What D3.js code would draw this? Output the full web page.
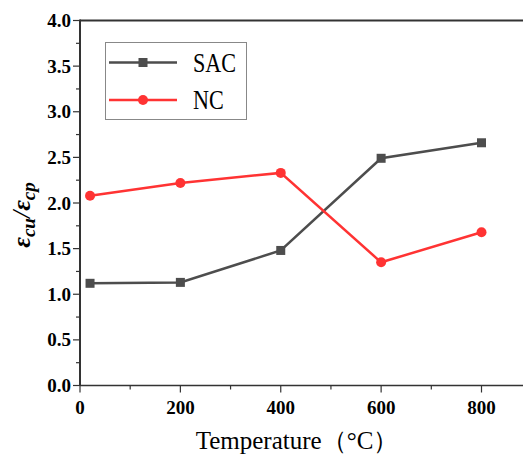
<!DOCTYPE html>
<html><head><meta charset="utf-8">
<script src="https://cdn.jsdelivr.net/npm/d3@7"></script>
<style>body{margin:0;background:#fff}svg{display:block}text{font-family:"Liberation Serif","DejaVu Serif","Times New Roman",serif}</style>
</head><body>
<svg id="c" width="523" height="459"></svg>
<script>
const temps = [20, 200, 400, 600, 800];
const sac = [1.12, 1.13, 1.48, 2.49, 2.66];
const nc = [2.08, 2.22, 2.33, 1.35, 1.68];
const xTicks = [0, 200, 400, 600, 800];
const yTicks = [0, 0.5, 1, 1.5, 2, 2.5, 3, 3.5, 4];
const seriesNames = ["SAC", "NC"];

const svg = d3.select("#c");
const L = 80, R = 523, T = 20.5, B = 385.5;
const x = d3.scaleLinear().domain([0, 800]).range([L, 481.5]);
const y = d3.scaleLinear().domain([0, 4]).range([B, T]);
const dark = "#333";

svg.append("line").attr("x1", L).attr("x2", R).attr("y1", T).attr("y2", T).attr("stroke", dark).attr("stroke-width", 2);

const xa = svg.append("g").attr("transform", `translate(0,${B})`);
xa.append("line").attr("x1", L).attr("x2", R).attr("stroke", dark).attr("stroke-width", 1.5);
const xMinor = d3.range(100, 900, 200);
xa.selectAll(".xm").data(xMinor).join("line").attr("x1", d => x(d)).attr("x2", d => x(d)).attr("y1", 0).attr("y2", 4).attr("stroke", dark).attr("stroke-width", 1.2);
xa.selectAll(".xM").data(xTicks).join("line").attr("x1", d => x(d)).attr("x2", d => x(d)).attr("y1", 0).attr("y2", 7).attr("stroke", dark).attr("stroke-width", 1.2);
xa.selectAll("text").data(xTicks).join("text").attr("x", d => x(d)).attr("y", 28)
  .attr("text-anchor", "middle").attr("font-weight", "bold").attr("font-size", 19).text(d => d);

const ya = svg.append("g");
ya.append("line").attr("x1", L).attr("x2", L).attr("y1", T - 1).attr("y2", B).attr("stroke", dark).attr("stroke-width", 2);
const yMinor = d3.range(0.25, 4, 0.5);
ya.selectAll(".ym").data(yMinor).join("line").attr("x1", L - 4).attr("x2", L).attr("y1", d => y(d)).attr("y2", d => y(d)).attr("stroke", dark).attr("stroke-width", 1.2);
ya.selectAll(".yM").data(yTicks).join("line").attr("x1", L - 7).attr("x2", L).attr("y1", d => y(d)).attr("y2", d => y(d)).attr("stroke", dark).attr("stroke-width", 1.2);
ya.selectAll("text").data(yTicks).join("text").attr("x", L - 9).attr("y", d => y(d) + 6.5)
  .attr("text-anchor", "end").attr("font-weight", "bold").attr("font-size", 19).text(d => d.toFixed(1));

svg.append("text").attr("x", 297).attr("y", 449).attr("text-anchor", "middle")
  .attr("font-size", 25).text("Temperature（°C）");
const yt = svg.append("text").attr("transform", "translate(30,215) rotate(-90)").attr("text-anchor", "middle")
  .attr("font-style", "italic").attr("font-weight", "bold").attr("font-size", 26);
yt.append("tspan").text("ε");
yt.append("tspan").attr("font-size", 19).attr("dy", 5).text("cu");
yt.append("tspan").attr("dy", -5).attr("font-weight", "normal").text("/");
yt.append("tspan").text("ε");
yt.append("tspan").attr("font-size", 19).attr("dy", 5).text("cp");

const colors = ["#4d4d4d", "#ff3333"];
const data = [sac, nc];
const line = d3.line().x((d, i) => x(temps[i])).y(d => y(d));
data.forEach((s, k) => {
  svg.append("path").attr("d", line(s)).attr("fill", "none").attr("stroke", colors[k]).attr("stroke-width", 2.5);
  if (k === 0) {
    svg.selectAll(".sq").data(s).join("rect").attr("x", (d, i) => x(temps[i]) - 4.5).attr("y", d => y(d) - 4.5)
      .attr("width", 9).attr("height", 9).attr("fill", colors[k]);
  } else {
    svg.selectAll(".ci").data(s).join("circle").attr("cx", (d, i) => x(temps[i])).attr("cy", d => y(d))
      .attr("r", 5).attr("fill", colors[k]);
  }
});

svg.append("rect").attr("x", 105.5).attr("y", 42.5).attr("width", 141).attr("height", 77).attr("fill", "#fff").attr("stroke", "#888").attr("stroke-width", 1);
seriesNames.forEach((n, k) => {
  const ly = k === 0 ? 62.5 : 100;
  svg.append("line").attr("x1", 109).attr("x2", 177).attr("y1", ly).attr("y2", ly).attr("stroke", colors[k]).attr("stroke-width", 2.5);
  if (k === 0) svg.append("rect").attr("x", 138.5).attr("y", ly - 4.5).attr("width", 9).attr("height", 9).attr("fill", colors[k]);
  else svg.append("circle").attr("cx", 143).attr("cy", ly).attr("r", 5).attr("fill", colors[k]);
  svg.append("text").attr("transform", `translate(193,${ly + 9}) scale(0.82,1)`).attr("font-size", 27).text(n);
});
</script>
</body></html>
